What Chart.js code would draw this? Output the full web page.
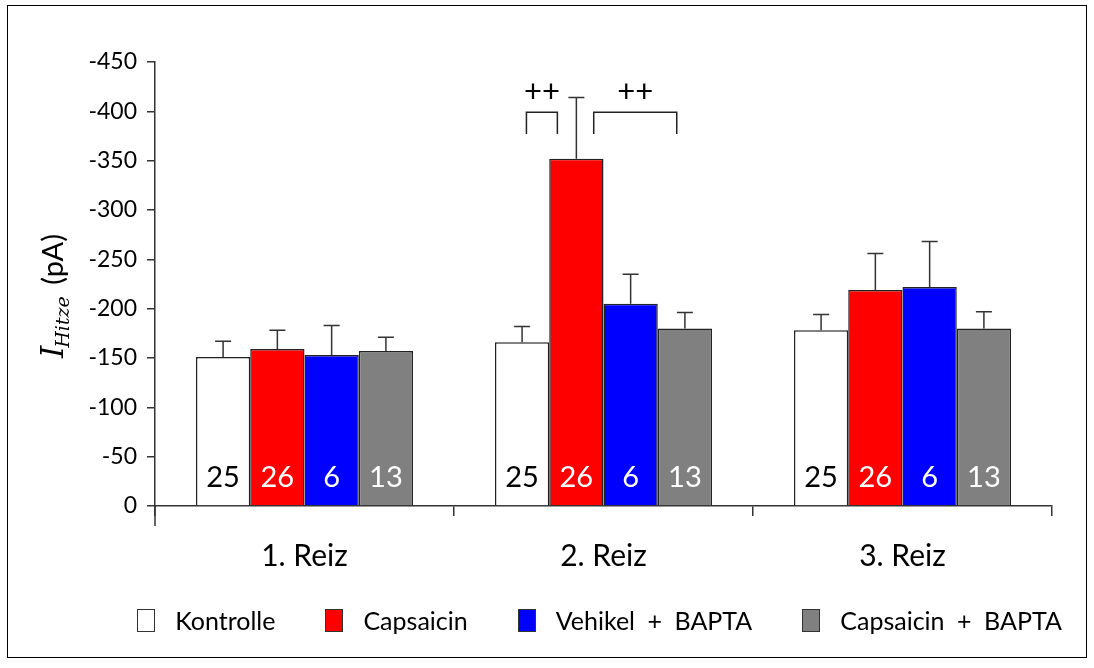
<!doctype html>
<html lang="de">
<head>
    <meta charset="UTF-8">
    <title>I Hitze</title>
    <style>
        body { margin: 0; background: #fff; }
        #wrap { position: relative; width: 1094px; height: 668px; }
        #frame { position: absolute; left: 7px; top: 5px; width: 1080px; height: 653px;
                 border: 1.5px solid #000; box-sizing: border-box; pointer-events: none; }
        #legend { position: absolute; top: 605px; left: 105px; width: 989px;
                  display: flex; justify-content: center; gap: 50px;
                  font-family: Lato, sans-serif; font-size: 25px; color: #000; }
        #legend span.item { display: flex; align-items: center; white-space: pre; }
        #legend span.box { display: inline-block; width: 16px; height: 21px;
                           border: 1.5px solid #333; margin-right: 20px; }
    </style>
</head>
<body>
<div id="wrap">
    <canvas id="myChart" width="1094" height="668"></canvas>
    <div id="frame"></div>
    <div id="legend"></div>
</div>
<script src="https://cdn.jsdelivr.net/npm/chart.js"></script>
<script>
    // Daten
    var reize = ['1. Reiz', '2. Reiz', '3. Reiz'];
    var serien = ['Kontrolle', 'Capsaicin', 'Vehikel + BAPTA', 'Capsaicin + BAPTA'];
    var farben = ['#ffffff', '#ff0000', '#0000ff', '#808080'];
    var kontrolle = [-151, -166, -178];
    var capsaicin = [-159, -352, -219];
    var vehikelBapta = [-153, -205, -222];
    var capsaicinBapta = [-157, -180, -180];
    // Fehlerbalken (SEM)
    var semKontrolle = [16, 16, 16];
    var semCapsaicin = [19, 62, 37];
    var semVehikelBapta = [30, 30, 46];
    var semCapsaicinBapta = [14, 16, 17];
    // Zellzahlen
    var nZellen = [25, 26, 6, 13];
    var yTicks = [0, -50, -100, -150, -200, -250, -300, -350, -400, -450];

    var werte = [kontrolle, capsaicin, vehikelBapta, capsaicinBapta];
    var sems = [semKontrolle, semCapsaicin, semVehikelBapta, semCapsaicinBapta];

    // Signifikanzklammern (2. Reiz)
    var klammern = [
        { reiz: 1, von: 0, dxVon: 0.08, bis: 1, dxBis: -0.35, label: '++' },
        { reiz: 1, von: 2, dxVon: -0.68, bis: 3, dxBis: -0.15, label: '++' }
    ];

    var fehlerPlugin = {
        id: 'fehler',
        afterDatasetsDraw: function(chart) {
            var ctx = chart.ctx;
            var y = chart.scales.y;
            ctx.save();
            ctx.strokeStyle = '#333';
            ctx.lineWidth = 1.5;
            chart.data.datasets.forEach(function(ds, i) {
                var meta = chart.getDatasetMeta(i);
                meta.data.forEach(function(bar, j) {
                    var top = y.getPixelForValue(ds.data[j] - sems[i][j]);
                    ctx.beginPath();
                    ctx.moveTo(bar.x, bar.y);
                    ctx.lineTo(bar.x, top);
                    ctx.moveTo(bar.x - 8, top);
                    ctx.lineTo(bar.x + 8, top);
                    ctx.stroke();
                    // Zellzahl
                    ctx.fillStyle = i === 0 ? '#000' : '#fff';
                    ctx.font = '29px Lato';
                    ctx.textAlign = 'center';
                    ctx.textBaseline = 'middle';
                    ctx.fillText(String(nZellen[i]), bar.x, chart.chartArea.bottom - 28);
                });
            });
            // Klammern
            ctx.strokeStyle = '#222';
            ctx.lineWidth = 1.5;
            var yOben = y.getPixelForValue(-399);
            var yUnten = y.getPixelForValue(-377);
            var yText = y.getPixelForValue(-420);
            klammern.forEach(function(k) {
                var a = chart.getDatasetMeta(k.von).data[k.reiz];
                var b = chart.getDatasetMeta(k.bis).data[k.reiz];
                var x1 = a.x + k.dxVon * a.width;
                var x2 = b.x + k.dxBis * b.width;
                ctx.beginPath();
                ctx.moveTo(x1, yUnten);
                ctx.lineTo(x1, yOben);
                ctx.lineTo(x2, yOben);
                ctx.lineTo(x2, yUnten);
                ctx.stroke();
                ctx.fillStyle = '#000';
                ctx.font = '31px Lato';
                ctx.textAlign = 'center';
                ctx.textBaseline = 'middle';
                ctx.fillText(k.label, (x1 + x2) / 2, yText);
            });
            // verlaengerte y-Achse
            ctx.strokeStyle = '#333';
            ctx.beginPath();
            ctx.moveTo(chart.chartArea.left, chart.chartArea.bottom);
            ctx.lineTo(chart.chartArea.left, chart.chartArea.bottom + 20);
            ctx.stroke();
            // y-Achsentitel
            ctx.save();
            ctx.translate(63, 296);
            ctx.rotate(-Math.PI / 2);
            ctx.fillStyle = '#000';
            ctx.textAlign = 'left';
            ctx.textBaseline = 'alphabetic';
            var f1 = 'italic 31px "DejaVu Serif"';
            var f2 = 'italic 19px "DejaVu Serif"';
            var f3 = '29px Lato';
            ctx.font = f1; var w1 = ctx.measureText('I').width;
            ctx.font = f2; var w2 = ctx.measureText('Hitze').width;
            ctx.font = f3; var w3 = ctx.measureText(' (pA)').width;
            var x0 = -(w1 + w2 + w3 + 2) / 2;
            ctx.font = f1; ctx.fillText('I', x0, 0);
            ctx.font = f2; ctx.fillText('Hitze', x0 + w1 - 2, 6);
            ctx.font = f3; ctx.fillText(' (pA)', x0 + w1 + w2 + 2, 0);
            ctx.restore();
            ctx.restore();
        }
    };

    var datasets = serien.map(function(name, i) {
        return {
            label: name,
            data: werte[i],
            backgroundColor: farben[i],
            borderColor: '#222',
            borderWidth: 1.5,
            categoryPercentage: 0.726,
            barPercentage: 1.0
        };
    });

    // Legende
    var legend = document.getElementById('legend');
    serien.forEach(function(name, i) {
        var item = document.createElement('span');
        item.className = 'item';
        var box = document.createElement('span');
        box.className = 'box';
        box.style.background = farben[i];
        item.appendChild(box);
        item.appendChild(document.createTextNode(name.replace(' + ', '\u2002+\u2002')));
        legend.appendChild(item);
    });

    var ctx = document.getElementById('myChart').getContext('2d');
    var chart = new Chart(ctx, {
        type: 'bar',
        data: { labels: reize, datasets: datasets },
        options: {
            responsive: false,
            animation: false,
            layout: { autoPadding: false, padding: { left: 0, right: 42, top: 62, bottom: 0 } },
            plugins: { legend: { display: false }, tooltip: { enabled: false } },
            scales: {
                x: {
                    afterFit: function(s) { s.height = 162; },
                    grid: { offset: true, drawOnChartArea: false, tickLength: 10, color: '#333', lineWidth: 1.5 },
                    border: { color: '#333', width: 1.5 },
                    ticks: { color: '#000', font: { family: 'Lato', size: 30 }, padding: 22 }
                },
                y: {
                    reverse: true,
                    min: -450,
                    max: 0,
                    afterFit: function(s) { s.width = 155; },
                    afterBuildTicks: function(s) { s.ticks = yTicks.map(function(v) { return { value: v }; }); },
                    grid: { drawOnChartArea: false, tickLength: 8, color: '#333', lineWidth: 1.5 },
                    border: { color: '#333', width: 1.5 },
                    ticks: { color: '#000', font: { family: 'Lato', size: 23 }, padding: 10 }
                }
            }
        },
        plugins: [fehlerPlugin]
    });
</script>
</body>
</html>
